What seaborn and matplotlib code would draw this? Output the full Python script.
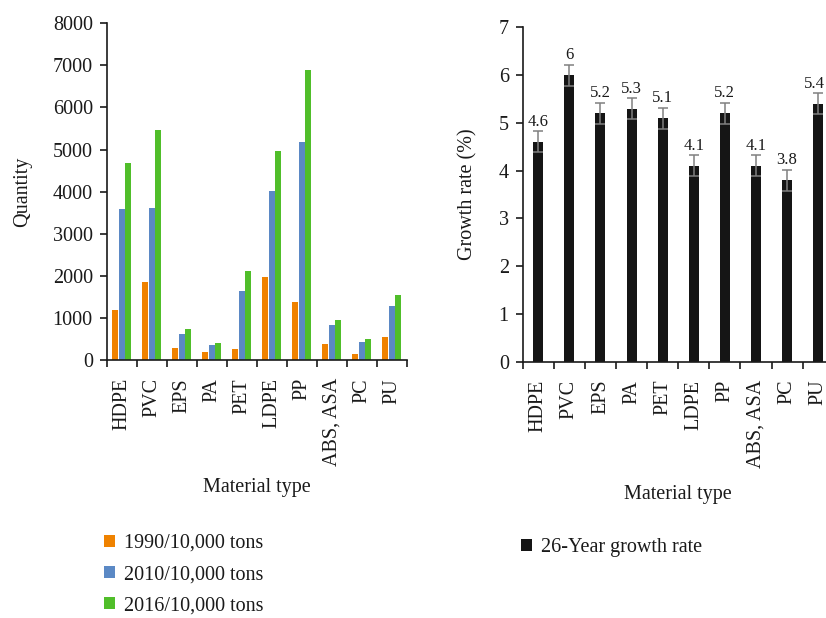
import numpy as np
import pandas as pd
import matplotlib
matplotlib.use("Agg")
import matplotlib.pyplot as plt
import seaborn as sns

# Plastic consumption by material (10,000 tons) and 26-year growth rate
materials = ["HDPE", "PVC", "EPS", "PA", "PET", "LDPE", "PP", "ABS, ASA", "PC", "PU"]
years = ["1990/10,000 tons", "2010/10,000 tons", "2016/10,000 tons"]
qty_1990 = [1190, 1850, 290, 190, 260, 1970, 1380, 380, 140, 550]
qty_2010 = [3590, 3610, 620, 360, 1640, 4010, 5180, 830, 430, 1290]
qty_2016 = [4680, 5460, 740, 400, 2110, 4960, 6890, 950, 500, 1540]
growth = [4.6, 6.0, 5.2, 5.3, 5.1, 4.1, 5.2, 4.1, 3.8, 5.4]
growth_err = [0.22] * len(materials)
growth_name = "26-Year growth rate"

year_colors = ["#EF8200", "#5B89C5", "#50BE2A"]
bar_black = "#151515"

sns.set_theme(style="ticks")
plt.rcParams["font.family"] = ["Liberation Serif", "DejaVu Serif"]
plt.rcParams["text.color"] = "#1a1a1a"
plt.rcParams["axes.labelcolor"] = "#1a1a1a"
plt.rcParams["xtick.color"] = "#1a1a1a"
plt.rcParams["ytick.color"] = "#1a1a1a"

FS = 14.5

qty = pd.DataFrame({
    "material": np.tile(materials, 3),
    "year": np.repeat(years, len(materials)),
    "quantity": np.concatenate([qty_1990, qty_2010, qty_2016]),
})
rate = pd.DataFrame({"material": materials, "rate": growth,
                     "series": [growth_name] * len(materials)})

W, H = 826, 618
fig = plt.figure(figsize=(W / 100, H / 100), dpi=100)
ax1 = fig.add_axes([106.7 / W, (H - 360) / H, 300 / W, 336.7 / H])
ax2 = fig.add_axes([522.7 / W, (H - 361.7) / H, 311 / W, 334.4 / H])

# Left: quantity per material and year
sns.barplot(data=qty, x="material", y="quantity", hue="year", order=materials,
            hue_order=years, palette=year_colors, width=0.63, gap=0.05,
            saturation=1, linewidth=0, ax=ax1)
ax1.set_ylim(0, 8000)
ax1.set_xlim(-0.5, len(materials) - 0.5)
ax1.set_yticks(np.arange(0, 8001, 1000))
ax1.set_ylabel("Quantity", fontsize=FS)
ax1.yaxis.set_label_coords(-0.25, 0.5)
ax1.set_xlabel("Material type", fontsize=FS)
ax1.xaxis.set_label_coords(0.5, -0.35)

# Right: growth rate with error bars
sns.barplot(data=rate, x="material", y="rate", hue="series", order=materials,
            palette=[bar_black], width=0.32, saturation=1, linewidth=0, ax=ax2)
xpos = np.arange(len(materials))
ax2.errorbar(xpos, growth, yerr=growth_err, fmt="none", ecolor="#808080",
             elinewidth=1.1, capsize=3.5, capthick=1.1)
for i, (x, v, e) in enumerate(zip(xpos, growth, growth_err)):
    # keep the last label inside the figure edge
    dx = -3 if i == len(xpos) - 1 else 0
    ax2.annotate(f"{v:g}", (x, v + e + 0.03), xytext=(dx, 0),
                 textcoords="offset points", ha="center", va="bottom",
                 fontsize=12)
ax2.set_ylim(0, 7)
ax2.set_xlim(-0.5, len(materials) - 0.5)
ax2.set_ylabel("Growth rate (%)", fontsize=FS)
ax2.yaxis.set_label_coords(-0.145, 0.5)
ax2.set_xlabel("Material type", fontsize=FS)
ax2.xaxis.set_label_coords(0.5, -0.37)

for ax in (ax1, ax2):
    sns.despine(ax=ax)
    for s in ("left", "bottom"):
        ax.spines[s].set_color("#1a1a1a")
        ax.spines[s].set_linewidth(1.2)
    ax.set_xticks(xpos)
    ax.set_xticklabels(materials, rotation=90, fontsize=FS)
    ax.tick_params(axis="x", which="major", length=0, pad=13)
    ax.set_xticks(np.arange(-0.5, len(materials)), minor=True)
    ax.tick_params(axis="x", which="minor", length=5, width=1.2, color="#1a1a1a")
    ax.tick_params(axis="y", length=5, width=1.2, pad=5, labelsize=FS)

sns.move_legend(ax1, "upper left", bbox_to_anchor=(104 / W, 1 - 534 / H),
                bbox_transform=fig.transFigure, frameon=False, title=None,
                fontsize=FS, handlelength=0.55, handleheight=0.55,
                handletextpad=0.45, labelspacing=0.6, borderpad=0,
                borderaxespad=0)
sns.move_legend(ax2, "upper left", bbox_to_anchor=(521 / W, 1 - 538 / H),
                bbox_transform=fig.transFigure, frameon=False, title=None,
                fontsize=FS, handlelength=0.55, handleheight=0.55,
                handletextpad=0.45, borderpad=0, borderaxespad=0)

fig.savefig("out.png", dpi=100)
